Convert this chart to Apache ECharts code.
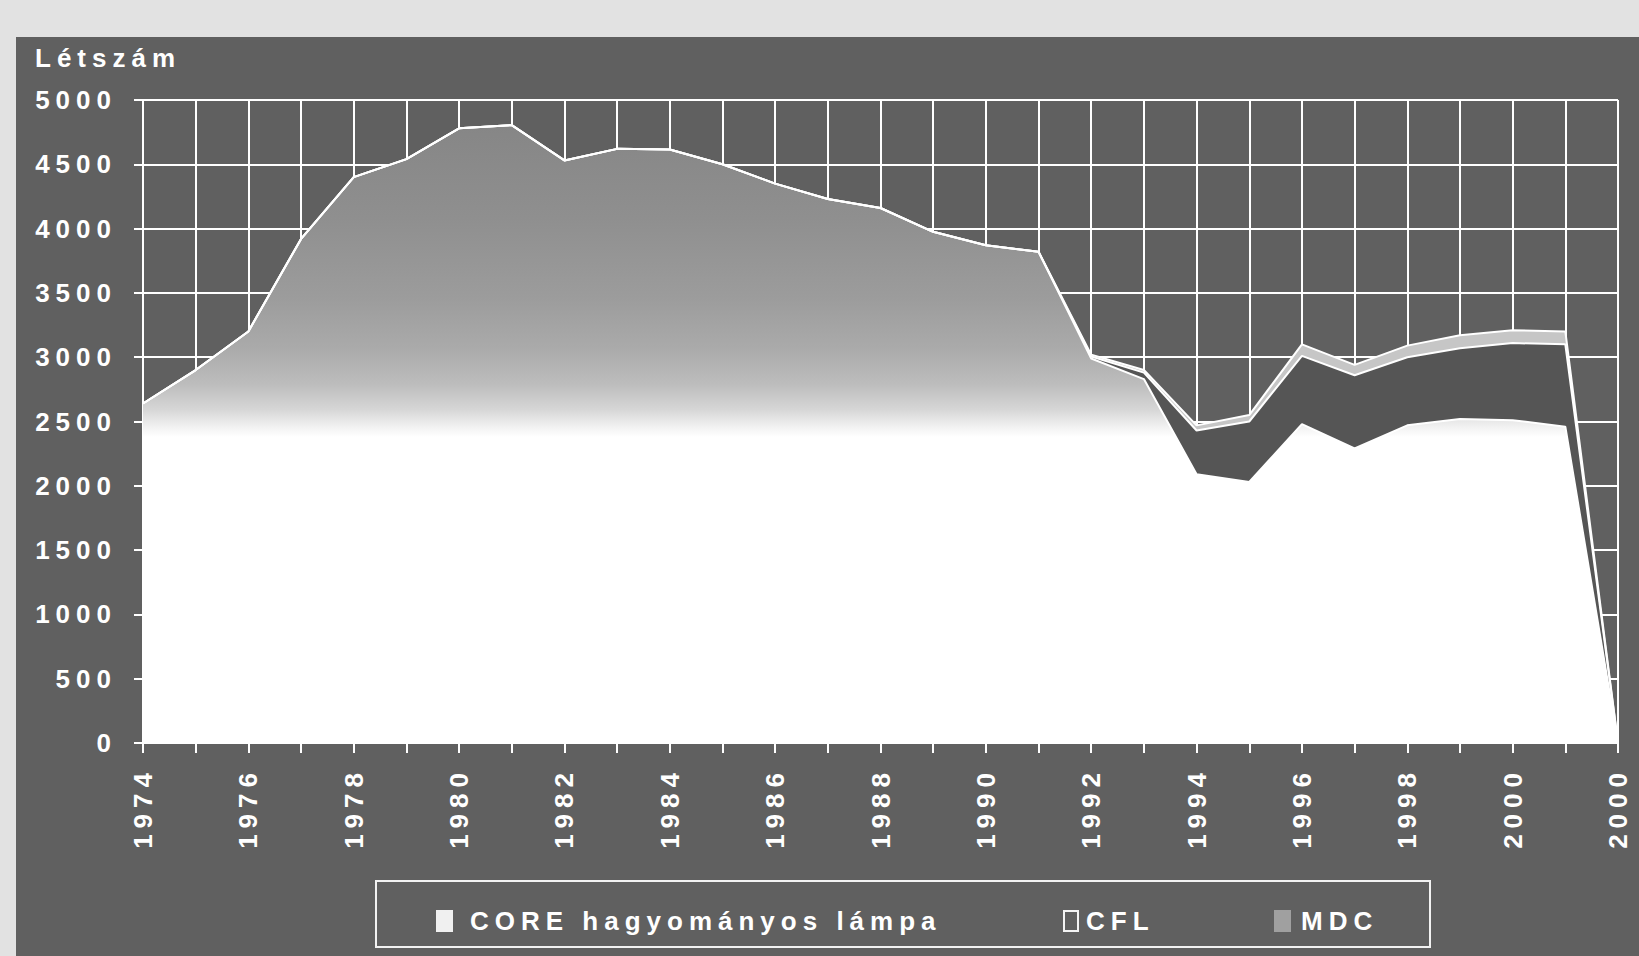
<!DOCTYPE html>
<html lang="hu" style="height: 100%">
<head>
    <meta charset="UTF-8">
    <title>Létszám</title>
    <script src="https://cdn.jsdelivr.net/npm/echarts@6/dist/echarts.min.js"></script>
    <style>
        body { margin: 0; height: 100%; background: #e2e2e2; }
        #panel { position: absolute; left: 16px; top: 37px; right: 0; bottom: 0; background: #606060; }
        #main { position: absolute; left: 0; top: 0; width: 1639px; height: 956px; }
        #main svg text { letter-spacing: 6px; }
    </style>
</head>
<body>
<div id="panel"></div>
<div id="main"></div>
<script>
    var years = ['1974', '1975', '1976', '1977', '1978', '1979', '1980', '1981', '1982', '1983',
        '1984', '1985', '1986', '1987', '1988', '1989', '1990', '1991', '1992', '1993',
        '1994', '1995', '1996', '1997', '1998', '1999', '2000', '2001', '2002'];
    // the printed labels (the last one reads 2000 in the original)
    var tickLabels = ['1974', '1975', '1976', '1977', '1978', '1979', '1980', '1981', '1982', '1983',
        '1984', '1985', '1986', '1987', '1988', '1989', '1990', '1991', '1992', '1993',
        '1994', '1995', '1996', '1997', '1998', '1999', '2000', '2001', '2000'];

    var core = [2640, 2900, 3200, 3920, 4400, 4540, 4780, 4805, 4530, 4620,
        4615, 4500, 4350, 4230, 4160, 3975, 3870, 3820, 2990, 2830,
        2090, 2030, 2480, 2290, 2470, 2520, 2510, 2460, 0];
    var mdc = [0, 0, 0, 0, 0, 0, 0, 0, 0, 0,
        0, 0, 0, 0, 0, 0, 0, 0, 15, 50,
        340, 470, 530, 570, 530, 550, 600, 640, 0];
    var cfl = [0, 0, 0, 0, 0, 0, 0, 0, 0, 0,
        0, 0, 0, 0, 0, 0, 0, 0, 15, 20,
        40, 50, 90, 80, 90, 100, 100, 100, 0];

    var names = ['CORE hagyományos lámpa', 'CFL', 'MDC'];
    var font = "'Liberation Sans', Arial, sans-serif";

    var legendText = function (pad) {
        return { color: '#fff', fontWeight: 'bold', fontSize: 26, fontFamily: font, padding: [0, 0, 0, pad] };
    };

    var myoption = {
        animation: false,
        backgroundColor: 'transparent',
        grid: { left: 143, right: 21, top: 100, bottom: 213 },
        graphic: [
            {
                type: 'text', left: 35, top: 45,
                style: { text: 'Létszám', fill: '#fff', font: 'bold 26px ' + font }
            },
            {
                type: 'rect', shape: { x: 376, y: 881, width: 1054, height: 66 },
                style: { fill: 'none', stroke: '#f2f2f2', lineWidth: 2 }
            }
        ],
        legend: [
            {
                data: [{ name: names[0], icon: 'rect', itemStyle: { color: '#f0f0f0' } }],
                left: 431, top: 903, itemWidth: 17, itemHeight: 22, selectedMode: false,
                textStyle: legendText(12)
            },
            {
                data: [{ name: names[1], icon: 'rect', itemStyle: { color: 'transparent', borderColor: '#f4f4f4', borderWidth: 2 } }],
                left: 1058, top: 903, itemWidth: 14, itemHeight: 20, selectedMode: false,
                textStyle: legendText(3)
            },
            {
                data: [{ name: names[2], icon: 'rect', itemStyle: { color: '#a0a0a0' } }],
                left: 1269, top: 903, itemWidth: 17, itemHeight: 22, selectedMode: false,
                textStyle: legendText(5)
            }
        ],
        xAxis: {
            type: 'category',
            boundaryGap: false,
            data: years,
            axisLine: { lineStyle: { color: '#fff', width: 2 } },
            axisTick: { interval: 0, length: 10, lineStyle: { color: '#fff', width: 2 } },
            axisLabel: {
                interval: 1, rotate: 90, margin: 24,
                color: '#fff', fontWeight: 'bold', fontSize: 26, fontFamily: font,
                formatter: function (v, i) { return tickLabels[i]; }
            },
            splitLine: { show: true, interval: 0, lineStyle: { color: '#fff', width: 2 } }
        },
        yAxis: {
            type: 'value',
            min: 0, max: 5000, interval: 500,
            axisLine: { show: true, lineStyle: { color: '#fff', width: 2 } },
            axisTick: { show: true, length: 9, lineStyle: { color: '#fff', width: 2 } },
            axisLabel: {
                margin: 26, color: '#fff', fontWeight: 'bold', fontSize: 26, fontFamily: font,
                formatter: function (v) { return String(v); }
            },
            splitLine: { lineStyle: { color: '#fff', width: 2 } }
        },
        series: [
            {
                name: names[0], type: 'line', stack: 'total', symbol: 'none', data: core,
                lineStyle: { color: '#fff', width: 2 },
                itemStyle: { color: '#f0f0f0' },
                areaStyle: {
                    opacity: 1,
                    color: new echarts.graphic.LinearGradient(0, 0, 0, 1, [
                        { offset: 0, color: '#868686' },
                        { offset: 0.15, color: '#8f8f8f' },
                        { offset: 0.28, color: '#9c9c9c' },
                        { offset: 0.36, color: '#aaaaaa' },
                        { offset: 0.42, color: '#bdbdbd' },
                        { offset: 0.46, color: '#d6d6d6' },
                        { offset: 0.49, color: '#f3f3f3' },
                        { offset: 0.505, color: '#ffffff' },
                        { offset: 1, color: '#ffffff' }
                    ])
                }
            },
            {
                name: names[2], type: 'line', stack: 'total', symbol: 'none', data: mdc,
                lineStyle: { color: '#fff', width: 2 },
                itemStyle: { color: '#a0a0a0' },
                areaStyle: { color: '#555555', opacity: 1 }
            },
            {
                name: names[1], type: 'line', stack: 'total', symbol: 'none', data: cfl,
                lineStyle: { color: '#fff', width: 2 },
                itemStyle: { color: '#f4f4f4' },
                areaStyle: { color: '#c6c6c6', opacity: 1 }
            }
        ]
    };

    var myChart = echarts.init(document.getElementById('main'), null, { renderer: 'svg' });
    myChart.setOption(myoption);
</script>
</body>
</html>
